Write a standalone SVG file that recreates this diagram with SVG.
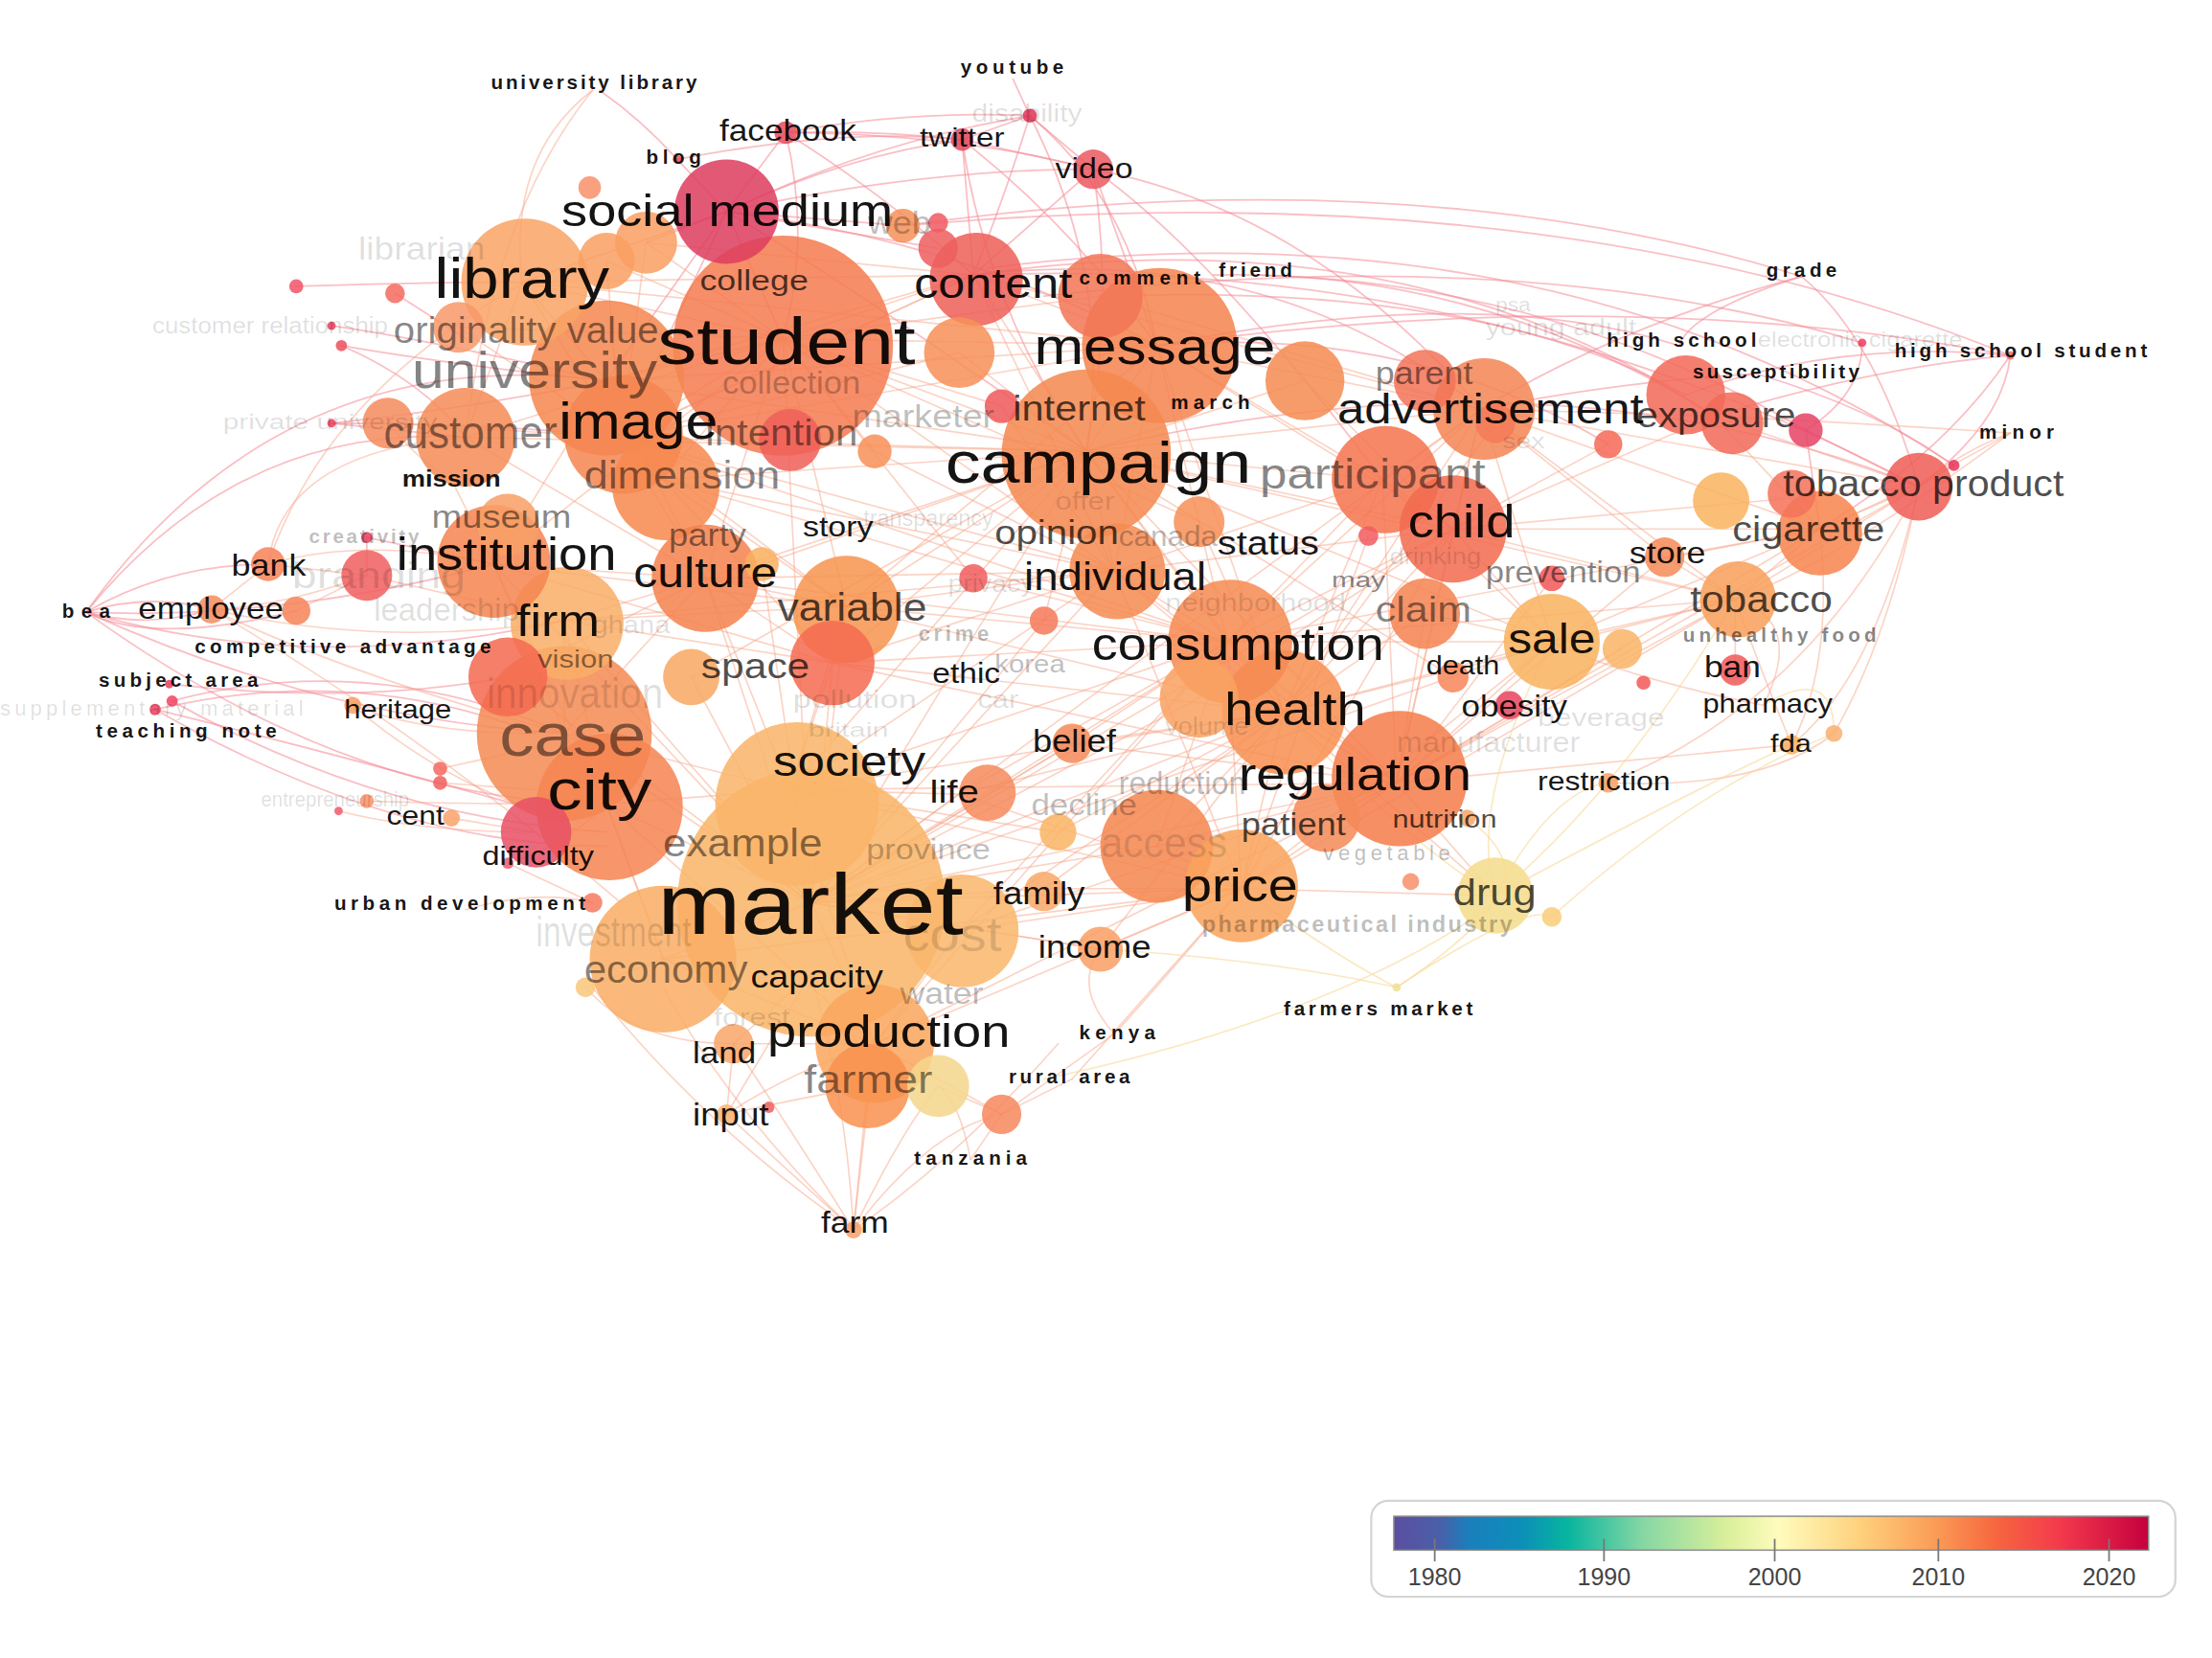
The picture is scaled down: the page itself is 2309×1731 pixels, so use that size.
<svg xmlns="http://www.w3.org/2000/svg" width="2309" height="1731" viewBox="0 0 2309 1731">
<defs>
<linearGradient id="cb" x1="0" y1="0" x2="1" y2="0">
<stop offset="0" stop-color="#5b4ea1"/><stop offset="0.06" stop-color="#4a5fa8"/><stop offset="0.1" stop-color="#1a7fbc"/><stop offset="0.17" stop-color="#0c8fb8"/><stop offset="0.23" stop-color="#07b59f"/><stop offset="0.33" stop-color="#86d7a4"/><stop offset="0.44" stop-color="#d9ef9a"/><stop offset="0.51" stop-color="#fffcbd"/><stop offset="0.62" stop-color="#fed07c"/><stop offset="0.72" stop-color="#fb9a55"/><stop offset="0.8" stop-color="#f6653f"/><stop offset="0.88" stop-color="#f43b4c"/><stop offset="1" stop-color="#c5003e"/>
</linearGradient>
<style>
.c path{fill:none;stroke-linecap:round}
.lo{stroke:#f7a78c;stroke-opacity:.5;stroke-width:1.1}
.lp{stroke:#f48a96;stroke-opacity:.55;stroke-width:1.2}
.ly{stroke:#f6d896;stroke-opacity:.6;stroke-width:1.1}
.nd circle{fill-opacity:.86}
text{font-family:"Liberation Sans",Arial,sans-serif}
.k{fill:#000;fill-opacity:.92}
.d{fill:#000;fill-opacity:.7}
.m{fill:#000;fill-opacity:.48}
.l{fill:#000;fill-opacity:.27}
.v{fill:#000;fill-opacity:.13}
.s{font-weight:bold;font-size:14px}
.lg{fill:#444;font-size:17px}
</style>
</defs>
<rect width="2309" height="1731" fill="#ffffff"/>
<g transform="scale(1.4726)">
<g id="connectors" class="c">
<g class="lp">
<path d="M718,56 L730,82"/><path d="M730,82 Q645,78 557,94"/><path d="M730,82 L682,99"/><path d="M730,82 L775,120"/><path d="M730,82 Q712,140 690,195"/><path d="M730,82 Q620,100 515,150"/><path d="M730,82 Q790,200 770,320"/><path d="M730,82 Q800,140 820,245"/>
<path d="M557,94 L515,150"/><path d="M557,94 Q620,92 682,99"/><path d="M557,94 Q630,140 690,195"/><path d="M557,94 Q575,170 555,240"/><path d="M557,94 Q680,95 775,120"/>
<path d="M682,99 L775,120"/><path d="M682,99 Q600,110 515,150"/><path d="M682,99 L690,195"/><path d="M682,99 Q760,160 820,245"/><path d="M682,99 Q700,220 770,320"/>
<path d="M775,120 L690,195"/><path d="M775,120 L820,245"/><path d="M775,120 Q790,220 770,320"/><path d="M775,120 Q930,150 1050,290"/><path d="M775,120 Q650,120 515,150"/><path d="M775,120 Q860,180 980,340"/>
<path d="M480,113 Q455,85 425,64"/><path d="M480,113 L515,150"/><path d="M480,113 Q600,90 682,99"/>
<path d="M515,150 L555,240"/><path d="M515,150 L440,310"/><path d="M515,150 L370,200"/><path d="M515,150 Q680,170 820,245"/><path d="M515,150 L640,160"/><path d="M515,150 Q600,200 770,320"/><path d="M515,150 L430,270"/><path d="M515,150 L458,172"/><path d="M515,150 L665,176"/>
<path d="M640,160 Q1000,110 1277,196"/><path d="M690,195 Q1000,150 1215,295"/><path d="M690,195 Q1050,180 1360,345"/><path d="M820,245 Q1050,200 1190,245"/><path d="M820,245 Q1150,200 1425,252"/><path d="M640,160 Q1100,120 1425,252"/><path d="M770,320 Q1100,240 1360,345"/><path d="M890,195 Q1100,200 1280,305"/><path d="M690,195 Q900,170 1050,290"/><path d="M860,195 Q1050,190 1215,295"/><path d="M700,190 Q1100,140 1385,330"/><path d="M740,210 Q1080,170 1320,243"/><path d="M780,210 Q1050,200 1195,280"/><path d="M820,245 Q1000,230 1140,315"/>
<path d="M1277,196 Q1330,240 1360,345"/><path d="M1277,196 Q1200,220 1190,245"/><path d="M1277,196 Q1150,230 1050,290"/>
<path d="M1425,252 Q1420,300 1360,345"/><path d="M1425,252 Q1330,260 1215,295"/><path d="M1425,252 Q1380,320 1290,375"/><path d="M1425,252 Q1300,240 1195,280"/>
<path d="M1320,243 Q1320,280 1280,305"/><path d="M1245,265 Q1330,290 1385,330"/><path d="M1245,265 Q1150,270 1050,290"/><path d="M1385,330 L1360,345"/><path d="M1280,305 L1360,345"/><path d="M1280,305 L1290,375"/>
<path d="M61,434 Q105,420 150,432"/><path d="M61,434 Q105,446 150,432"/><path d="M61,434 Q110,458 210,433"/><path d="M61,434 Q120,400 190,400"/><path d="M61,434 Q170,300 330,310"/><path d="M61,434 Q200,240 430,270"/><path d="M61,434 Q200,440 350,400"/><path d="M61,434 Q220,480 400,440"/><path d="M61,434 Q230,510 400,520"/><path d="M61,434 Q250,570 430,570"/>
<path d="M110,503 Q250,470 380,520"/><path d="M122,497 Q260,460 400,520"/><path d="M110,503 Q260,540 400,580"/><path d="M122,497 Q270,580 430,590"/><path d="M120,485 Q250,500 360,480"/><path d="M110,503 Q280,600 430,600"/>
<path d="M235,231 Q300,240 430,270"/><path d="M242,245 Q330,260 430,270"/><path d="M242,245 Q300,270 330,310"/><path d="M235,300 Q330,290 430,270"/><path d="M235,300 L330,310"/><path d="M235,300 Q350,300 440,310"/><path d="M210,203 Q300,200 370,200"/><path d="M280,208 L330,240"/><path d="M260,381 L350,400"/><path d="M260,381 L260,408"/>
</g>
<g class="lo">
<path d="M420,64 Q360,110 370,200"/><path d="M420,64 Q350,150 330,310"/>
<path d="M150,432 L190,400"/><path d="M150,432 Q200,430 260,408"/><path d="M150,432 Q270,460 400,440"/><path d="M150,432 Q250,480 400,520"/><path d="M150,432 Q300,520 440,640"/><path d="M210,433 L260,408"/><path d="M190,400 L260,408"/><path d="M190,400 Q260,380 350,400"/><path d="M190,400 Q200,320 330,310"/><path d="M190,400 Q230,280 372,200"/><path d="M260,408 L400,440"/>
<path d="M250,500 Q300,520 380,520"/><path d="M250,500 Q320,560 400,580"/><path d="M240,575 Q300,590 380,590"/><path d="M260,568 Q330,570 400,570"/><path d="M320,580 L380,590"/><path d="M312,545 L380,530"/><path d="M312,555 L380,560"/><path d="M360,612 Q400,600 430,570"/><path d="M360,612 L420,640"/><path d="M330,645 Q380,630 420,640"/><path d="M275,300 Q300,330 320,340"/><path d="M320,340 L350,400"/>
<path d="M555,240 L770,320"/><path d="M555,240 L820,245"/><path d="M555,240 L440,310"/><path d="M555,240 L500,410"/><path d="M555,240 L600,430"/><path d="M555,240 L575,640"/><path d="M555,240 L350,400"/><path d="M555,240 L790,405"/><path d="M555,240 L690,195"/><path d="M555,240 L370,200"/><path d="M555,240 L430,270"/><path d="M555,240 L470,340"/>
<path d="M440,310 L770,320"/><path d="M440,310 L820,245"/><path d="M440,310 L500,410"/><path d="M440,310 L600,430"/><path d="M440,310 L690,195"/><path d="M370,200 L430,270"/><path d="M370,200 L440,310"/><path d="M370,200 L330,310"/><path d="M430,270 L770,320"/><path d="M430,270 L350,400"/><path d="M430,270 L500,410"/><path d="M470,340 L770,320"/><path d="M470,340 L600,430"/><path d="M470,340 L590,470"/>
<path d="M350,400 L500,410"/><path d="M350,400 L430,570"/><path d="M350,400 L400,520"/><path d="M400,440 L575,640"/><path d="M400,440 L600,430"/><path d="M400,440 L590,470"/><path d="M500,410 L560,560"/><path d="M500,410 L575,640"/><path d="M500,410 L590,470"/><path d="M500,410 L770,320"/>
<path d="M600,430 L790,405"/><path d="M600,430 L870,455"/><path d="M600,430 L560,560"/><path d="M590,470 L560,560"/><path d="M590,470 L575,640"/><path d="M590,470 L870,455"/><path d="M400,520 L575,640"/><path d="M430,570 L575,640"/><path d="M430,570 L560,560"/><path d="M560,560 L910,505"/><path d="M560,560 L870,455"/><path d="M560,560 L680,563"/>
<path d="M575,640 L880,630"/><path d="M575,640 L870,455"/><path d="M575,640 L990,555"/><path d="M575,640 L910,505"/><path d="M575,640 L770,320"/><path d="M575,640 L790,405"/><path d="M575,640 L740,630"/><path d="M575,640 L780,673"/><path d="M575,640 L620,740"/><path d="M575,640 L820,600"/><path d="M575,640 L760,527"/><path d="M470,680 L620,740"/><path d="M470,680 L575,640"/><path d="M680,660 L880,630"/><path d="M680,660 L990,555"/><path d="M680,660 L620,740"/>
<path d="M820,245 L770,320"/><path d="M820,245 L1050,290"/><path d="M820,245 L980,340"/><path d="M820,245 L1030,375"/><path d="M820,245 L790,405"/><path d="M690,195 L820,245"/><path d="M690,195 L770,320"/>
<path d="M770,320 L1050,290"/><path d="M770,320 L980,340"/><path d="M770,320 L1030,375"/><path d="M770,320 L870,455"/><path d="M770,320 L910,505"/><path d="M770,320 L790,405"/><path d="M770,320 L590,470"/><path d="M770,320 L600,430"/>
<path d="M980,340 L1030,375"/><path d="M980,340 L910,505"/><path d="M980,340 L1050,290"/><path d="M1050,290 L1030,375"/><path d="M1050,290 L1230,425"/><path d="M1050,290 L1290,375"/><path d="M1050,290 L1215,295"/><path d="M1050,290 L1360,345"/><path d="M1050,290 L1100,455"/>
<path d="M1030,375 L910,505"/><path d="M1030,375 L1100,455"/><path d="M1030,375 L1230,425"/><path d="M1030,375 L990,555"/><path d="M1030,375 L870,455"/><path d="M1010,435 L1100,455"/><path d="M1010,435 L990,555"/><path d="M1010,435 L910,505"/>
<path d="M870,455 L910,505"/><path d="M870,455 L990,555"/><path d="M870,455 L1100,455"/><path d="M870,455 L880,630"/><path d="M870,455 L790,405"/><path d="M910,505 L990,555"/><path d="M910,505 L1100,455"/><path d="M910,505 L880,630"/><path d="M990,555 L880,630"/><path d="M990,555 L1100,455"/><path d="M990,555 L1230,425"/><path d="M990,555 L1360,345"/><path d="M990,555 L1060,635"/><path d="M880,630 L1060,635"/><path d="M880,630 L1100,455"/>
<path d="M1100,455 L1230,425"/><path d="M1100,455 L1290,375"/><path d="M1230,425 L1290,375"/><path d="M1230,425 L1360,345"/><path d="M1290,375 L1360,345"/><path d="M1215,295 L1360,345"/><path d="M1215,295 L1290,375"/><path d="M1180,395 L1230,425"/><path d="M1180,395 L1290,375"/><path d="M1180,395 L1050,290"/>
<path d="M790,405 L910,505"/><path d="M680,563 L575,640"/><path d="M680,563 L910,505"/><path d="M760,527 L910,505"/><path d="M760,527 L870,455"/><path d="M820,600 L880,630"/><path d="M820,600 L910,505"/><path d="M820,600 L990,555"/><path d="M740,630 L880,630"/><path d="M780,673 L880,630"/><path d="M620,740 L880,630"/>
<path d="M370,200 L690,195"/><path d="M370,200 L820,245"/><path d="M430,270 L820,245"/><path d="M430,270 L690,195"/><path d="M330,310 L555,240"/><path d="M330,310 L770,320"/><path d="M330,310 L500,410"/><path d="M440,310 L790,405"/><path d="M440,310 L870,455"/><path d="M470,340 L790,405"/><path d="M470,340 L870,455"/><path d="M350,400 L600,430"/><path d="M350,400 L590,470"/><path d="M350,400 L575,640"/><path d="M400,440 L500,410"/><path d="M400,440 L400,520"/><path d="M400,440 L430,570"/><path d="M400,440 L790,405"/><path d="M500,410 L790,405"/><path d="M500,410 L600,430"/><path d="M500,410 L870,455"/><path d="M600,430 L910,505"/><path d="M600,430 L575,640"/><path d="M600,430 L590,470"/><path d="M590,470 L790,405"/><path d="M590,470 L910,505"/><path d="M590,470 L990,555"/><path d="M400,520 L560,560"/><path d="M400,520 L430,570"/><path d="M400,520 L500,410"/><path d="M430,570 L470,680"/><path d="M430,570 L620,740"/><path d="M560,560 L880,630"/><path d="M560,560 L990,555"/><path d="M560,560 L620,740"/><path d="M560,560 L790,405"/><path d="M575,640 L1100,455"/><path d="M575,640 L1030,375"/><path d="M575,640 L1050,290"/><path d="M470,680 L880,630"/><path d="M430,570 L470,680"/><path d="M680,660 L910,505"/><path d="M680,660 L870,455"/><path d="M620,740 L990,555"/><path d="M620,740 L870,455"/><path d="M820,245 L910,505"/><path d="M820,245 L870,455"/><path d="M820,245 L600,430"/><path d="M690,195 L1050,290"/><path d="M690,195 L440,310"/><path d="M690,195 L790,405"/><path d="M770,320 L1100,455"/><path d="M770,320 L1230,425"/><path d="M770,320 L990,555"/><path d="M770,320 L560,560"/><path d="M980,340 L1100,455"/><path d="M980,340 L870,455"/><path d="M980,340 L990,555"/><path d="M980,340 L790,405"/><path d="M1050,290 L870,455"/><path d="M1050,290 L910,505"/><path d="M1050,290 L990,555"/><path d="M1030,375 L880,630"/><path d="M1030,375 L1290,375"/><path d="M1030,375 L1360,345"/><path d="M1030,375 L1215,295"/><path d="M870,455 L1230,425"/><path d="M870,455 L1290,375"/><path d="M910,505 L1230,425"/><path d="M910,505 L1060,635"/><path d="M990,555 L1290,375"/><path d="M990,555 L1180,395"/><path d="M880,630 L1230,425"/><path d="M790,405 L880,630"/><path d="M790,405 L990,555"/><path d="M790,405 L1030,375"/><path d="M680,563 L870,455"/><path d="M680,563 L880,630"/><path d="M760,527 L575,640"/><path d="M760,527 L990,555"/><path d="M820,600 L870,455"/><path d="M740,630 L910,505"/><path d="M780,673 L910,505"/><path d="M780,673 L575,640"/>
<path d="M458,172 L555,240"/><path d="M458,172 L440,310"/><path d="M458,172 L690,195"/><path d="M430,185 L555,240"/><path d="M430,185 L440,310"/><path d="M325,232 L555,240"/><path d="M325,232 L440,310"/><path d="M275,300 L440,310"/><path d="M680,250 L770,320"/><path d="M680,250 L440,310"/><path d="M710,288 L555,240"/><path d="M710,288 L790,405"/><path d="M620,320 L555,240"/><path d="M620,320 L790,405"/><path d="M540,400 L770,320"/><path d="M540,400 L575,640"/><path d="M690,410 L555,240"/><path d="M690,410 L870,455"/><path d="M740,440 L770,320"/><path d="M740,440 L575,640"/><path d="M850,370 L555,240"/><path d="M850,370 L910,505"/><path d="M925,270 L770,320"/><path d="M925,270 L1030,375"/><path d="M780,210 L555,240"/><path d="M780,210 L1050,290"/><path d="M360,480 L575,640"/><path d="M360,480 L500,410"/><path d="M490,480 L770,320"/><path d="M490,480 L575,640"/><path d="M850,495 L575,640"/><path d="M850,495 L1030,375"/><path d="M1060,300 L910,505"/><path d="M1140,315 L1030,375"/><path d="M1100,410 L990,555"/><path d="M970,380 L880,630"/><path d="M1030,480 L770,320"/><path d="M1150,460 L990,555"/><path d="M750,590 L910,505"/><path d="M750,590 L560,560"/>
<path d="M1360,345 Q1340,450 1300,520"/><path d="M1360,345 Q1330,480 1270,528"/><path d="M1290,375 Q1300,470 1270,528"/><path d="M1360,345 Q1280,500 1140,555"/><path d="M1230,425 Q1250,480 1270,528"/><path d="M1230,425 L1230,475"/><path d="M1300,520 Q1250,560 1140,555"/><path d="M1270,528 Q1150,540 990,555"/><path d="M1250,500 Q1150,480 1100,455"/><path d="M1250,500 Q1280,440 1230,425"/><path d="M1425,307 Q1390,320 1360,345"/><path d="M1425,307 Q1320,300 1215,295"/><path d="M1425,307 Q1350,350 1290,375"/><path d="M1425,307 Q1300,400 1230,425"/>
<path d="M605,872 L515,790"/><path d="M605,872 Q560,800 520,740"/><path d="M605,872 L615,770"/><path d="M605,872 L620,740"/><path d="M605,872 Q600,780 575,690"/><path d="M605,872 Q640,800 665,770"/><path d="M605,872 Q660,800 710,790"/><path d="M605,872 Q680,820 750,740"/><path d="M605,872 Q520,790 470,700"/><path d="M605,872 Q500,800 420,700"/>
<path d="M515,790 L520,740"/><path d="M515,790 Q560,760 620,740"/><path d="M515,790 L575,690"/><path d="M515,790 Q560,780 615,770"/><path d="M520,740 L620,740"/><path d="M520,740 L575,690"/><path d="M688,822 L710,790"/><path d="M688,822 Q680,780 665,770"/><path d="M710,790 L620,740"/><path d="M710,790 L665,770"/><path d="M760,765 Q800,720 880,630"/><path d="M760,765 L710,790"/><path d="M790,733 Q820,700 880,630"/><path d="M790,733 L710,790"/><path d="M790,733 Q760,700 780,673"/><path d="M415,700 L470,680"/><path d="M415,700 Q450,740 520,740"/>
</g>
<g class="ly">
<path d="M1060,635 Q1100,560 1140,555"/><path d="M1060,635 Q1000,600 910,505"/><path d="M1060,635 Q1150,560 1230,425"/><path d="M1060,635 Q1200,560 1270,528"/><path d="M1100,650 Q1200,560 1300,520"/><path d="M1060,635 Q1040,570 1100,455"/><path d="M990,700 Q1050,660 1060,635"/><path d="M740,765 Q950,720 1060,640"/><path d="M990,700 Q1080,640 1100,650"/><path d="M990,700 Q950,680 880,630"/><path d="M990,700 Q900,680 780,673"/><path d="M1250,500 Q1300,470 1300,520"/><path d="M1040,580 Q1080,610 1060,635"/>
</g>
</g>
<g id="nodes" class="nd">
<g id="n-market"><circle cx="575" cy="640" r="95" fill="#f9b468"/></g>
<g id="n-student"><circle cx="555" cy="245" r="78" fill="#f47b50"/></g>
<g id="n-society"><circle cx="565" cy="570" r="58" fill="#f9b469"/></g>
<g id="n-case"><circle cx="400" cy="520" r="62" fill="#f58a54"/></g>
<g id="n-city"><circle cx="432" cy="572" r="52" fill="#f58552"/></g>
<g id="n-university"><circle cx="430" cy="268" r="55" fill="#f5874f"/></g>
<g id="n-message"><circle cx="822" cy="245" r="55" fill="#f5844f"/></g>
<g id="n-campaign"><circle cx="770" cy="322" r="60" fill="#f5884f"/></g>
<g id="n-economy"><circle cx="470" cy="680" r="52" fill="#f9ad64"/></g>
<g id="n-cost"><circle cx="682" cy="660" r="40" fill="#f9b76c"/></g>
<g id="n-library"><circle cx="372" cy="200" r="45" fill="#f9a465"/></g>
<g id="n-regulation"><circle cx="992" cy="552" r="48" fill="#f57d4b"/></g>
<g id="n-health"><circle cx="910" cy="505" r="44" fill="#f78f52"/></g>
<g id="n-consumption"><circle cx="872" cy="455" r="44" fill="#f68b52"/></g>
<g id="n-image"><circle cx="442" cy="308" r="42" fill="#f48650"/></g>
<g id="n-production"><circle cx="620" cy="740" r="42" fill="#f9a65d"/></g>
<g id="n-access"><circle cx="820" cy="600" r="40" fill="#f4864f"/></g>
<g id="n-price"><circle cx="880" cy="628" r="40" fill="#f9a35b"/></g>
<g id="n-firm"><circle cx="402" cy="442" r="40" fill="#f9ad68"/></g>
<g id="n-institution"><circle cx="350" cy="398" r="40" fill="#f58550"/></g>
<g id="n-dimension"><circle cx="472" cy="345" r="38" fill="#f6894f"/></g>
<g id="n-culture"><circle cx="500" cy="410" r="38" fill="#f5824e"/></g>
<g id="n-variable"><circle cx="600" cy="432" r="38" fill="#f7944f"/></g>
<g id="n-participant"><circle cx="982" cy="340" r="38" fill="#f4744f"/></g>
<g id="n-child"><circle cx="1030" cy="375" r="38" fill="#f26b4f"/></g>
<g id="n-advertisement"><circle cx="1052" cy="290" r="36" fill="#f58555"/></g>
<g id="n-social-medium"><circle cx="515" cy="150" r="37" fill="#dd3e5f"/></g>
<g id="n-individual"><circle cx="792" cy="405" r="34" fill="#f58a51"/></g>
<g id="n-content"><circle cx="692" cy="198" r="33" fill="#ee5f58"/></g>
<g id="n-customer"><circle cx="330" cy="310" r="35" fill="#f58c56"/></g>
<g id="n-sale"><circle cx="1100" cy="455" r="34" fill="#f9b260"/></g>
<g id="n-space"><circle cx="590" cy="470" r="30" fill="#f46b50"/></g>
<g id="n-farmer"><circle cx="615" cy="770" r="30" fill="#f8924f"/></g>
<g id="n-cigarette"><circle cx="1290" cy="378" r="30" fill="#f7854f"/></g>
<g id="n-tobacco"><circle cx="1232" cy="425" r="27" fill="#f8a05b"/></g>
<g id="n-drug"><circle cx="1060" cy="635" r="27" fill="#f4dc8c"/></g>
<g id="n-claim"><circle cx="1010" cy="435" r="25" fill="#f58452"/></g>
<g id="n-patient"><circle cx="940" cy="580" r="24" fill="#f58a58"/></g>
<g id="n-tobacco-product"><circle cx="1360" cy="345" r="24" fill="#ef5e56"/></g>
<g id="n-exposure"><circle cx="1228" cy="300" r="22" fill="#f26a58"/></g>
<g id="n-parent"><circle cx="1010" cy="270" r="22" fill="#f27458"/></g>
<g id="n-intention"><circle cx="560" cy="312" r="22" fill="#f06058"/></g>
<g id="n-museum"><circle cx="360" cy="372" r="22" fill="#f8a067"/></g>
<g id="n-life"><circle cx="700" cy="562" r="20" fill="#f58a5c"/></g>
<g id="n-branding"><circle cx="260" cy="408" r="18" fill="#f16060"/></g>
<g id="n-video"><circle cx="775" cy="120" r="14" fill="#ec5a62"/></g>
<g id="n-store"><circle cx="1180" cy="395" r="14" fill="#f68a58"/></g>
<g id="n-belief"><circle cx="760" cy="527" r="14" fill="#f58a5a"/></g>
<g id="n-land"><circle cx="520" cy="740" r="14" fill="#f9a56a"/></g>
<g id="n-family"><circle cx="740" cy="632" r="14" fill="#f9a868"/></g>
<g id="n-income"><circle cx="780" cy="673" r="16" fill="#f9a064"/></g>
<g id="n-web"><circle cx="640" cy="160" r="12" fill="#f69058"/></g>
<g id="n-bank"><circle cx="190" cy="400" r="12" fill="#f7845a"/></g>
<g id="n-ban"><circle cx="1230" cy="475" r="11" fill="#f05a58"/></g>
<g id="n-obesity"><circle cx="1070" cy="500" r="10" fill="#e6455e"/></g>
<g id="n-employee"><circle cx="150" cy="432" r="10" fill="#f58d5e"/></g>
<g id="n-facebook"><circle cx="557" cy="94" r="8" fill="#e74c5e"/></g>
<g id="n-twitter"><circle cx="682" cy="99" r="8" fill="#e7485c"/></g>
<g id="n-restriction"><circle cx="1140" cy="555" r="7" fill="#f8a060"/></g>
<g id="n-fda"><circle cx="1270" cy="528" r="7" fill="#f9b060"/></g>
<g id="n-input"><circle cx="515" cy="790" r="7" fill="#f9b370"/></g>
<g id="n-disability"><circle cx="730" cy="82" r="5" fill="#e0365a"/></g>
<g id="n-cent"><circle cx="320" cy="580" r="6" fill="#f9a36a"/></g>
<g id="n-heritage"><circle cx="250" cy="500" r="6" fill="#f9a060"/></g>
<g id="n-farm"><circle cx="605" cy="872" r="6" fill="#f9a06a"/></g>
<g id="n-nutrition"><circle cx="1040" cy="580" r="6" fill="#f9a565"/></g>
<g id="n-blog"><circle cx="480" cy="113" r="3" fill="#e85060"/></g>
<g id="n-mission"><circle cx="320" cy="340" r="4" fill="#f9a36a"/></g>
<g id="n-creativity"><circle cx="260" cy="381" r="4" fill="#e84060"/></g>
<g id="n-difficulty"><circle cx="360" cy="612" r="4" fill="#f25a6a"/></g>
<g id="n-farmers-market"><circle cx="990" cy="700" r="3" fill="#f0e090"/></g>
<g id="n-high-school-student"><circle cx="1425" cy="252" r="3" fill="#f07060"/></g>
<g id="unlabeled-nodes">
<circle cx="780" cy="210" r="30" fill="#f27656"/><circle cx="925" cy="270" r="28" fill="#f58c52"/><circle cx="1195" cy="280" r="28" fill="#f26a58"/><circle cx="360" cy="480" r="28" fill="#f46a50"/><circle cx="850" cy="495" r="28" fill="#f9a262"/><circle cx="680" cy="250" r="25" fill="#f79058"/><circle cx="380" cy="590" r="25" fill="#e85064"/><circle cx="458" cy="172" r="22" fill="#f9a062"/><circle cx="665" cy="770" r="22" fill="#f5d68c"/><circle cx="490" cy="480" r="20" fill="#f8a864"/><circle cx="430" cy="185" r="20" fill="#f9a063"/><circle cx="275" cy="300" r="18" fill="#f58c5e"/><circle cx="325" cy="232" r="18" fill="#f8986a"/><circle cx="1220" cy="355" r="20" fill="#f9b360"/><circle cx="1270" cy="350" r="17" fill="#f4725a"/><circle cx="850" cy="370" r="18" fill="#f79058"/><circle cx="1060" cy="300" r="14" fill="#f47a58"/><circle cx="665" cy="176" r="14" fill="#ee6060"/><circle cx="710" cy="790" r="14" fill="#f7885e"/><circle cx="750" cy="590" r="13" fill="#f9b565"/><circle cx="710" cy="288" r="12" fill="#ef5a5c"/><circle cx="620" cy="320" r="12" fill="#f8905a"/><circle cx="540" cy="400" r="12" fill="#f9b060"/><circle cx="1280" cy="305" r="12" fill="#e54465"/><circle cx="1030" cy="480" r="11" fill="#f6875b"/><circle cx="690" cy="410" r="10" fill="#f06060"/><circle cx="740" cy="440" r="10" fill="#f47a5a"/><circle cx="1140" cy="315" r="10" fill="#f46a58"/><circle cx="1100" cy="410" r="9" fill="#f25a5a"/><circle cx="210" cy="433" r="10" fill="#f7845a"/><circle cx="1150" cy="460" r="14" fill="#f9b568"/><circle cx="418" cy="133" r="8" fill="#f8926a"/><circle cx="665" cy="158" r="7" fill="#ef5c62"/><circle cx="280" cy="208" r="7" fill="#f46b5e"/><circle cx="970" cy="380" r="7" fill="#f25c5e"/><circle cx="1100" cy="650" r="7" fill="#f9cc7a"/><circle cx="415" cy="700" r="7" fill="#f9c77a"/><circle cx="420" cy="640" r="7" fill="#f67a5e"/><circle cx="210" cy="203" r="5" fill="#f2546a"/><circle cx="242" cy="245" r="4" fill="#ef5060"/><circle cx="235" cy="231" r="3" fill="#e84060"/><circle cx="1300" cy="520" r="6" fill="#f9b070"/><circle cx="1000" cy="625" r="6" fill="#f7906a"/><circle cx="1165" cy="484" r="5" fill="#f25a5a"/><circle cx="260" cy="568" r="5" fill="#f9946a"/><circle cx="240" cy="575" r="3" fill="#f25a6a"/><circle cx="312" cy="545" r="5" fill="#f46a60"/><circle cx="312" cy="555" r="5" fill="#f26060"/><circle cx="110" cy="503" r="4" fill="#f04060"/><circle cx="122" cy="497" r="4" fill="#f24462"/><circle cx="120" cy="485" r="3" fill="#e84060"/><circle cx="545" cy="785" r="4" fill="#f06060"/><circle cx="1320" cy="243" r="3" fill="#f04060"/><circle cx="1385" cy="330" r="4" fill="#e8355a"/><circle cx="235" cy="300" r="3" fill="#f04060"/>
</g>
</g>
<g id="labels">
<text class="k s" x="348" y="63" textLength="146">university library</text>
<text class="k s" x="681" y="52" textLength="73">youtube</text>
<text class="k" x="510" y="100" font-size="21" textLength="97" lengthAdjust="spacingAndGlyphs">facebook</text>
<text class="k s" x="458" y="116" textLength="39">blog</text>
<text class="k" x="652" y="104" font-size="19" textLength="60" lengthAdjust="spacingAndGlyphs">twitter</text>
<text class="k" x="748" y="126" font-size="20" textLength="55" lengthAdjust="spacingAndGlyphs">video</text>
<text class="v" x="689" y="86" font-size="18" textLength="78" lengthAdjust="spacingAndGlyphs">disability</text>
<text class="k" x="398" y="160" font-size="32" textLength="235" lengthAdjust="spacingAndGlyphs">social medium</text>
<text class="l" x="615" y="166" font-size="22" textLength="45" lengthAdjust="spacingAndGlyphs">web</text>
<text class="v" x="254" y="184" font-size="22" textLength="90" lengthAdjust="spacingAndGlyphs">librarian</text>
<text class="k" x="308" y="211" font-size="40" textLength="124" lengthAdjust="spacingAndGlyphs">library</text>
<text class="d" x="496" y="206" font-size="20" textLength="77" lengthAdjust="spacingAndGlyphs">college</text>
<text class="k" x="648" y="211" font-size="30" textLength="112" lengthAdjust="spacingAndGlyphs">content</text>
<text class="k s" x="765" y="202" textLength="86">comment</text>
<text class="k s" x="864" y="196" textLength="52">friend</text>
<text class="k s" x="1252" y="196" textLength="50">grade</text>
<text class="v" x="108" y="236" font-size="16" textLength="167" lengthAdjust="spacingAndGlyphs">customer relationship</text>
<text class="m" x="279" y="243" font-size="26" textLength="188" lengthAdjust="spacingAndGlyphs">originality value</text>
<text class="k" x="466" y="258" font-size="46" textLength="183" lengthAdjust="spacingAndGlyphs">student</text>
<text class="k" x="733" y="258" font-size="37" textLength="171" lengthAdjust="spacingAndGlyphs">message</text>
<text class="v" x="1060" y="221" font-size="14" textLength="25" lengthAdjust="spacingAndGlyphs">psa</text>
<text class="v" x="1053" y="238" font-size="16" textLength="107" lengthAdjust="spacingAndGlyphs">young adult</text>
<text class="k s" x="1139" y="246" textLength="106">high school</text>
<text class="v" x="1246" y="246" font-size="15" textLength="145" lengthAdjust="spacingAndGlyphs">electronic cigarette</text>
<text class="k s" x="1343" y="253" textLength="179">high school student</text>
<text class="k s" x="1200" y="268" textLength="118">susceptibility</text>
<text class="m" x="292" y="275" font-size="36" textLength="174" lengthAdjust="spacingAndGlyphs">university</text>
<text class="l" x="512" y="279" font-size="22" textLength="98" lengthAdjust="spacingAndGlyphs">collection</text>
<text class="m" x="975" y="272" font-size="23" textLength="69" lengthAdjust="spacingAndGlyphs">parent</text>
<text class="k" x="948" y="300" font-size="30" textLength="217" lengthAdjust="spacingAndGlyphs">advertisement</text>
<text class="d" x="1160" y="303" font-size="25" textLength="113" lengthAdjust="spacingAndGlyphs">exposure</text>
<text class="d" x="718" y="298" font-size="25" textLength="94" lengthAdjust="spacingAndGlyphs">internet</text>
<text class="k s" x="830" y="290" textLength="56">march</text>
<text class="l" x="604" y="303" font-size="23" textLength="101" lengthAdjust="spacingAndGlyphs">marketer</text>
<text class="v" x="158" y="304" font-size="15" textLength="152" lengthAdjust="spacingAndGlyphs">private university</text>
<text class="m" x="272" y="318" font-size="33" textLength="123" lengthAdjust="spacingAndGlyphs">customer</text>
<text class="k" x="396" y="311" font-size="37" textLength="113" lengthAdjust="spacingAndGlyphs">image</text>
<text class="m" x="500" y="316" font-size="26" textLength="108" lengthAdjust="spacingAndGlyphs">intention</text>
<text class="k s" x="1403" y="311" textLength="53">minor</text>
<text class="v" x="1065" y="318" font-size="15" textLength="30" lengthAdjust="spacingAndGlyphs">sex</text>
<text class="k" x="670" y="342" font-size="42" textLength="217" lengthAdjust="spacingAndGlyphs">campaign</text>
<text class="m" x="893" y="346" font-size="30" textLength="160" lengthAdjust="spacingAndGlyphs">participant</text>
<text class="d" x="1264" y="352" font-size="26" textLength="199" lengthAdjust="spacingAndGlyphs">tobacco product</text>
<text class="k" x="285" y="345" font-size="16" font-weight="bold" textLength="70" lengthAdjust="spacingAndGlyphs">mission</text>
<text class="m" x="414" y="346" font-size="27" textLength="139" lengthAdjust="spacingAndGlyphs">dimension</text>
<text class="v" x="748" y="361" font-size="18" textLength="42" lengthAdjust="spacingAndGlyphs">offer</text>
<text class="v" x="612" y="373" font-size="16" textLength="92" lengthAdjust="spacingAndGlyphs">transparency</text>
<text class="m" x="306" y="374" font-size="23" textLength="99" lengthAdjust="spacingAndGlyphs">museum</text>
<text class="k" x="998" y="381" font-size="33" textLength="76" lengthAdjust="spacingAndGlyphs">child</text>
<text class="k" x="569" y="380" font-size="20" textLength="50" lengthAdjust="spacingAndGlyphs">story</text>
<text class="d" x="705" y="386" font-size="24" textLength="88" lengthAdjust="spacingAndGlyphs">opinion</text>
<text class="l" x="793" y="387" font-size="20" textLength="70" lengthAdjust="spacingAndGlyphs">canada</text>
<text class="k" x="863" y="393" font-size="24" textLength="72" lengthAdjust="spacingAndGlyphs">status</text>
<text class="d" x="1228" y="384" font-size="25" textLength="108" lengthAdjust="spacingAndGlyphs">cigarette</text>
<text class="k" x="1155" y="399" font-size="21" textLength="54" lengthAdjust="spacingAndGlyphs">store</text>
<text class="v" x="985" y="400" font-size="16" textLength="65" lengthAdjust="spacingAndGlyphs">drinking</text>
<text class="l" x="219" y="385" font-size="14" font-weight="bold" textLength="78">creativity</text>
<text class="m" x="474" y="387" font-size="22" textLength="55" lengthAdjust="spacingAndGlyphs">party</text>
<text class="k" x="281" y="404" font-size="33" textLength="156" lengthAdjust="spacingAndGlyphs">institution</text>
<text class="k" x="164" y="408" font-size="21" textLength="53" lengthAdjust="spacingAndGlyphs">bank</text>
<text class="v" x="207" y="417" font-size="26" textLength="123" lengthAdjust="spacingAndGlyphs">branding</text>
<text class="k" x="449" y="416" font-size="30" textLength="102" lengthAdjust="spacingAndGlyphs">culture</text>
<text class="v" x="672" y="420" font-size="18" textLength="61" lengthAdjust="spacingAndGlyphs">privacy</text>
<text class="k" x="726" y="418" font-size="28" textLength="129" lengthAdjust="spacingAndGlyphs">individual</text>
<text class="m" x="1053" y="413" font-size="21" textLength="110" lengthAdjust="spacingAndGlyphs">prevention</text>
<text class="m" x="944" y="416" font-size="15" textLength="38" lengthAdjust="spacingAndGlyphs">may</text>
<text class="k s" x="44" y="438" textLength="34">bea</text>
<text class="k" x="98" y="439" font-size="21" textLength="103" lengthAdjust="spacingAndGlyphs">employee</text>
<text class="v" x="265" y="440" font-size="22" textLength="103" lengthAdjust="spacingAndGlyphs">leadership</text>
<text class="k" x="366" y="451" font-size="32" textLength="59" lengthAdjust="spacingAndGlyphs">firm</text>
<text class="v" x="420" y="449" font-size="17" textLength="55" lengthAdjust="spacingAndGlyphs">ghana</text>
<text class="d" x="551" y="440" font-size="27" textLength="106" lengthAdjust="spacingAndGlyphs">variable</text>
<text class="v" x="826" y="433" font-size="17" textLength="128" lengthAdjust="spacingAndGlyphs">neighborhood</text>
<text class="m" x="975" y="441" font-size="25" textLength="68" lengthAdjust="spacingAndGlyphs">claim</text>
<text class="d" x="1198" y="434" font-size="26" textLength="101" lengthAdjust="spacingAndGlyphs">tobacco</text>
<text class="k s" x="138" y="463" textLength="210">competitive advantage</text>
<text class="l" x="651" y="454" font-size="15" font-weight="bold" textLength="50">crime</text>
<text class="k" x="774" y="468" font-size="33" textLength="207" lengthAdjust="spacingAndGlyphs">consumption</text>
<text class="m s" x="1193" y="455" textLength="137">unhealthy food</text>
<text class="k" x="1069" y="463" font-size="30" textLength="62" lengthAdjust="spacingAndGlyphs">sale</text>
<text class="m" x="381" y="473" font-size="18" textLength="54" lengthAdjust="spacingAndGlyphs">vision</text>
<text class="d" x="497" y="481" font-size="25" textLength="77" lengthAdjust="spacingAndGlyphs">space</text>
<text class="k" x="661" y="484" font-size="20" textLength="48" lengthAdjust="spacingAndGlyphs">ethic</text>
<text class="l" x="705" y="477" font-size="18" textLength="50" lengthAdjust="spacingAndGlyphs">korea</text>
<text class="k" x="1011" y="478" font-size="19" textLength="52" lengthAdjust="spacingAndGlyphs">death</text>
<text class="k" x="1208" y="480" font-size="21" textLength="40" lengthAdjust="spacingAndGlyphs">ban</text>
<text class="k s" x="70" y="487" textLength="113">subject area</text>
<text class="v" x="345" y="502" font-size="30" textLength="125" lengthAdjust="spacingAndGlyphs">innovation</text>
<text class="v" x="562" y="502" font-size="18" textLength="88" lengthAdjust="spacingAndGlyphs">pollution</text>
<text class="v" x="693" y="502" font-size="18" textLength="29" lengthAdjust="spacingAndGlyphs">car</text>
<text class="v" x="826" y="521" font-size="17" textLength="59" lengthAdjust="spacingAndGlyphs">volume</text>
<text class="k" x="244" y="509" font-size="19" textLength="76" lengthAdjust="spacingAndGlyphs">heritage</text>
<text class="k" x="1036" y="508" font-size="21" textLength="75" lengthAdjust="spacingAndGlyphs">obesity</text>
<text class="k" x="1207" y="505" font-size="19" textLength="92" lengthAdjust="spacingAndGlyphs">pharmacy</text>
<text class="v" x="1090" y="515" font-size="17" textLength="90" lengthAdjust="spacingAndGlyphs">beverage</text>
<text class="k" x="868" y="514" font-size="33" textLength="100" lengthAdjust="spacingAndGlyphs">health</text>
<text class="k s" x="68" y="523" textLength="128">teaching note</text>
<text class="v" x="0" y="507" font-size="15" textLength="215">supplementary material</text>
<text class="v" x="573" y="522" font-size="14" textLength="57" lengthAdjust="spacingAndGlyphs">britain</text>
<text class="k" x="732" y="533" font-size="22" textLength="59" lengthAdjust="spacingAndGlyphs">belief</text>
<text class="k" x="1255" y="533" font-size="17" textLength="29" lengthAdjust="spacingAndGlyphs">fda</text>
<text class="v" x="990" y="533" font-size="20" textLength="130" lengthAdjust="spacingAndGlyphs">manufacturer</text>
<text class="m" x="354" y="536" font-size="43" textLength="104" lengthAdjust="spacingAndGlyphs">case</text>
<text class="k" x="548" y="550" font-size="30" textLength="108" lengthAdjust="spacingAndGlyphs">society</text>
<text class="k" x="878" y="560" font-size="33" textLength="165" lengthAdjust="spacingAndGlyphs">regulation</text>
<text class="k" x="1090" y="560" font-size="19" textLength="94" lengthAdjust="spacingAndGlyphs">restriction</text>
<text class="k" x="388" y="574" font-size="40" textLength="74" lengthAdjust="spacingAndGlyphs">city</text>
<text class="k" x="659" y="569" font-size="23" textLength="35" lengthAdjust="spacingAndGlyphs">life</text>
<text class="l" x="793" y="563" font-size="22" textLength="90" lengthAdjust="spacingAndGlyphs">reduction</text>
<text class="l" x="731" y="578" font-size="21" textLength="75" lengthAdjust="spacingAndGlyphs">decline</text>
<text class="v" x="185" y="572" font-size="15" textLength="105" lengthAdjust="spacingAndGlyphs">entrepreneurship</text>
<text class="k" x="274" y="585" font-size="19" textLength="41" lengthAdjust="spacingAndGlyphs">cent</text>
<text class="d" x="880" y="592" font-size="22" textLength="74" lengthAdjust="spacingAndGlyphs">patient</text>
<text class="d" x="987" y="587" font-size="18" textLength="74" lengthAdjust="spacingAndGlyphs">nutrition</text>
<text class="m" x="470" y="607" font-size="27" textLength="113" lengthAdjust="spacingAndGlyphs">example</text>
<text class="l" x="614" y="609" font-size="20" textLength="88" lengthAdjust="spacingAndGlyphs">province</text>
<text class="l" x="938" y="610" font-size="15" textLength="90">vegetable</text>
<text class="v" x="780" y="608" font-size="30" textLength="90" lengthAdjust="spacingAndGlyphs">access</text>
<text class="k" x="342" y="613" font-size="19" textLength="79" lengthAdjust="spacingAndGlyphs">difficulty</text>
<text class="k" x="466" y="662" font-size="60" textLength="217" lengthAdjust="spacingAndGlyphs">market</text>
<text class="k" x="704" y="641" font-size="22" textLength="65" lengthAdjust="spacingAndGlyphs">family</text>
<text class="k" x="838" y="639" font-size="33" textLength="82" lengthAdjust="spacingAndGlyphs">price</text>
<text class="d" x="1030" y="642" font-size="26" textLength="59" lengthAdjust="spacingAndGlyphs">drug</text>
<text class="k s" x="237" y="645" textLength="178">urban development</text>
<text class="l" x="852" y="661" font-size="16" font-weight="bold" textLength="220">pharmaceutical industry</text>
<text class="v" x="380" y="671" font-size="30" textLength="110" lengthAdjust="spacingAndGlyphs">investment</text>
<text class="v" x="640" y="674" font-size="34" textLength="70" lengthAdjust="spacingAndGlyphs">cost</text>
<text class="k" x="736" y="679" font-size="22" textLength="80" lengthAdjust="spacingAndGlyphs">income</text>
<text class="m" x="414" y="697" font-size="28" textLength="116" lengthAdjust="spacingAndGlyphs">economy</text>
<text class="k" x="532" y="700" font-size="22" textLength="94" lengthAdjust="spacingAndGlyphs">capacity</text>
<text class="l" x="638" y="712" font-size="21" textLength="59" lengthAdjust="spacingAndGlyphs">water</text>
<text class="v" x="506" y="727" font-size="17" textLength="54" lengthAdjust="spacingAndGlyphs">forest</text>
<text class="k" x="544" y="742" font-size="32" textLength="172" lengthAdjust="spacingAndGlyphs">production</text>
<text class="k s" x="910" y="720" textLength="134">farmers market</text>
<text class="k s" x="765" y="737" textLength="54">kenya</text>
<text class="k" x="491" y="754" font-size="21" textLength="45" lengthAdjust="spacingAndGlyphs">land</text>
<text class="k s" x="715" y="768" textLength="86">rural area</text>
<text class="m" x="570" y="775" font-size="28" textLength="91" lengthAdjust="spacingAndGlyphs">farmer</text>
<text class="k" x="491" y="798" font-size="22" textLength="54" lengthAdjust="spacingAndGlyphs">input</text>
<text class="k s" x="648" y="826" textLength="80">tanzania</text>
<text class="k" x="582" y="874" font-size="21" textLength="48" lengthAdjust="spacingAndGlyphs">farm</text>
</g>
<g id="legend">
<rect x="972" y="1064" width="570" height="68" rx="12" ry="12" fill="#ffffff" stroke="#d4d4d4" stroke-width="1.5"/>
<rect x="988" y="1075" width="535" height="24" fill="url(#cb)" stroke="#8a8a8a" stroke-width="1"/>
<g stroke="#777" stroke-width="1.2">
<line x1="1017" y1="1091" x2="1017" y2="1107"/><line x1="1137" y1="1091" x2="1137" y2="1107"/><line x1="1258" y1="1091" x2="1258" y2="1107"/><line x1="1374" y1="1091" x2="1374" y2="1107"/><line x1="1495" y1="1091" x2="1495" y2="1107"/>
</g>
<text class="lg" x="1017" y="1124" text-anchor="middle">1980</text>
<text class="lg" x="1137" y="1124" text-anchor="middle">1990</text>
<text class="lg" x="1258" y="1124" text-anchor="middle">2000</text>
<text class="lg" x="1374" y="1124" text-anchor="middle">2010</text>
<text class="lg" x="1495" y="1124" text-anchor="middle">2020</text>
</g>
</g>
</svg>
